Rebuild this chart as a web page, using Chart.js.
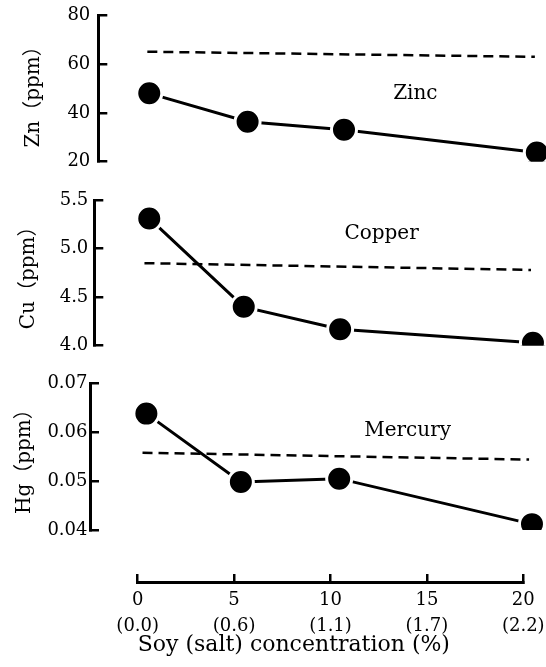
<!DOCTYPE html>
<html>
<head>
<meta charset="utf-8">
<script src="https://cdn.jsdelivr.net/npm/chart.js@4.4.1/dist/chart.umd.min.js"></script>
<style>
  body { margin: 0; background: #fff; }
  #wrap { position: relative; width: 546px; height: 667px; }
  #wrap canvas { position: absolute; left: 0; top: 0; }
</style>
</head>
<body>
<div id="wrap">
  <canvas id="zn" width="546" height="667"></canvas>
  <canvas id="cu" width="546" height="667"></canvas>
  <canvas id="hg" width="546" height="667"></canvas>
  <canvas id="soy" width="546" height="667"></canvas>
</div>
<script>
// zinc
const znX = [0.6, 5.7, 10.7, 20.7];
const znVals = [48.1, 36.4, 33.1, 23.8];
const znRefX = [0.5, 20.6];
const znRef = [65.2, 63.1];

// copper
const cuX = [0.6, 5.5, 10.5, 20.5];
const cuVals = [5.31, 4.40, 4.17, 4.03];
const cuRefX = [0.35, 20.4];
const cuRef = [4.85, 4.78];

// mercury
const hgX = [0.45, 5.35, 10.45, 20.45];
const hgVals = [0.0638, 0.0498, 0.0505, 0.0412];
const hgRefX = [0.25, 20.3];
const hgRef = [0.0558, 0.0544];

// shared x axis
const soyTicks = [0, 5, 10, 15, 20];
const saltTicks = ["0.0", "0.6", "1.1", "1.7", "2.2"];

const SERIF = "'DejaVu Serif', 'Noto Sans CJK JP', serif";
const X0 = 137.7;      // pixel of soy = 0
const X20 = 523.3;     // pixel of soy = 20
const PX_PER = (X20 - X0) / 20;

const panelLabel = {
  id: "panelLabel",
  afterDatasetsDraw(chart, args, opts) {
    const { ctx, scales: { x, y } } = chart;
    ctx.save();
    ctx.font = "20px " + SERIF;
    ctx.fillStyle = "#000";
    ctx.textAlign = "center";
    ctx.textBaseline = "middle";
    ctx.fillText(opts.text, x.getPixelForValue(opts.x), y.getPixelForValue(opts.y));
    ctx.restore();
  }
};

const pts = (xs, ys) => xs.map((x, i) => ({ x: x, y: ys[i] }));

function makePanel(id, p) {
  new Chart(document.getElementById(id), {
    type: "line",
    data: {
      datasets: [{
        data: pts(p.xs, p.vals),
        borderColor: "#000",
        borderWidth: 3,
        pointRadius: 12.5,
        pointBorderWidth: 3,
        pointBorderColor: "#fff",
        pointBackgroundColor: "#000"
      }, {
        data: pts(p.refXs, p.ref),
        borderColor: "#000",
        borderWidth: 2.5,
        borderDash: [10, 6],
        pointRadius: 0
      }]
    },
    options: {
      responsive: false,
      animation: false,
      events: [],
      layout: { autoPadding: false, padding: { top: p.top, bottom: 667 - p.bottom, left: 0, right: 0 } },
      scales: {
        x: {
          type: "linear",
          display: false,
          min: (p.axisX - X0) / PX_PER,
          max: (546 - X0) / PX_PER
        },
        y: {
          min: p.min,
          max: p.max,
          afterFit: s => { s.width = p.axisX; s.paddingTop = 0; s.paddingBottom = 0; },
          border: { display: true, color: "#000", width: 3 },
          grid: { drawOnChartArea: false, color: "#000", lineWidth: 2.5, tickLength: -9 },
          ticks: {
            stepSize: p.step,
            padding: p.tickPad,
            color: "#000",
            font: { family: SERIF, size: 18 },
            callback: v => v.toFixed(p.digits)
          },
          title: {
            display: true,
            text: p.title,
            color: "#000",
            font: { family: SERIF, size: 20 },
            padding: { top: p.titlePad, bottom: 0 }
          }
        }
      },
      plugins: {
        legend: { display: false },
        tooltip: { enabled: false },
        panelLabel: p.label
      }
    },
    plugins: [panelLabel]
  });
}

makePanel("zn", {
  xs: znX, vals: znVals, refXs: znRefX, ref: znRef,
  min: 20, max: 80, step: 20, digits: 0,
  axisX: 98.3, top: 15.7, bottom: 161.7, tickPad: 17, titlePad: 22,
  title: "Zn（ppm） ",
  label: { text: "Zinc", x: 14.4, y: 47.8 }
});

makePanel("cu", {
  xs: cuX, vals: cuVals, refXs: cuRefX, ref: cuRef,
  min: 4.0, max: 5.5, step: 0.5, digits: 1,
  axisX: 94.3, top: 200, bottom: 345.7, tickPad: 15, titlePad: 17,
  title: "Cu（ppm）",
  label: { text: "Copper", x: 12.65, y: 5.15 }
});

makePanel("hg", {
  xs: hgX, vals: hgVals, refXs: hgRefX, ref: hgRef,
  min: 0.04, max: 0.07, step: 0.01, digits: 2,
  axisX: 90, top: 383.3, bottom: 530, tickPad: 11.5, titlePad: 13,
  title: "Hg（ppm）",
  label: { text: "Mercury", x: 14.0, y: 0.0602 }
});

// bottom axis
new Chart(document.getElementById("soy"), {
  type: "line",
  data: { datasets: [] },
  options: {
    responsive: false,
    animation: false,
    events: [],
    layout: { autoPadding: false, padding: { top: 560, bottom: 0, left: X0, right: 546 - X20 } },
    scales: {
      y: { display: false },
      x: {
        type: "linear",
        position: "bottom",
        min: 0,
        max: 20,
        afterFit: s => { s.height = 667 - 582; s.paddingLeft = 0; s.paddingRight = 0; },
        border: { display: true, color: "#000", width: 3 },
        grid: { drawOnChartArea: false, color: "#000", lineWidth: 2.5, tickLength: -8 },
        afterBuildTicks: s => { s.ticks = soyTicks.map(v => ({ value: v })); },
        ticks: {
          padding: 13,
          maxRotation: 0,
          autoSkip: false,
          color: "#000",
          font: { family: SERIF, size: 18, lineHeight: 1.45 },
          callback: v => [String(v), "(" + saltTicks[soyTicks.indexOf(v)] + ")"]
        },
        title: {
          display: true,
          align: "start",
          text: "Soy (salt) concentration (%)",
          color: "#000",
          font: { family: SERIF, size: 22 },
          padding: { top: 0, bottom: 9 }
        }
      }
    },
    plugins: { legend: { display: false }, tooltip: { enabled: false } }
  }
});
</script>
</body>
</html>
